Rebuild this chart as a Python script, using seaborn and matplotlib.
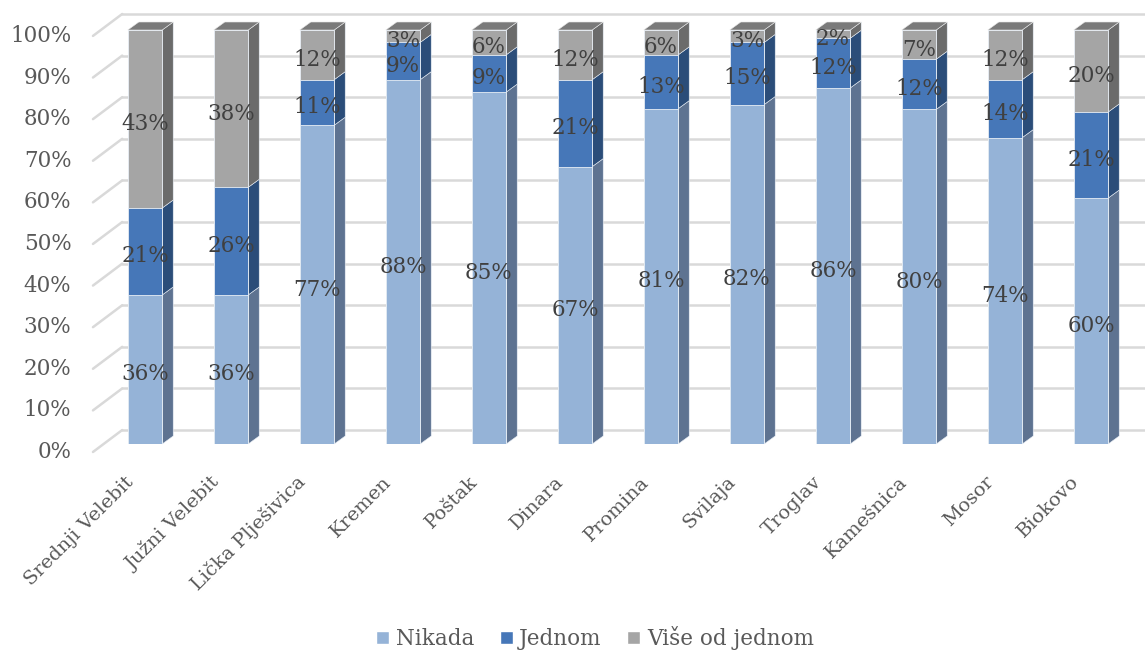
import matplotlib
matplotlib.use("Agg")
import matplotlib.pyplot as plt
from matplotlib.patches import Polygon, Patch
import seaborn as sns
import numpy as np
import pandas as pd

categories = ["Srednji Velebit", "Južni Velebit", "Lička Plješivica", "Kremen", "Poštak",
              "Dinara", "Promina", "Svilaja", "Troglav", "Kamešnica", "Mosor", "Biokovo"]
nikada = [36, 36, 77, 88, 85, 67, 81, 82, 86, 80, 74, 60]
jednom = [21, 26, 11, 9, 9, 21, 13, 15, 12, 12, 14, 21]
vise = [43, 38, 12, 3, 6, 12, 6, 3, 2, 7, 12, 20]
series_names = ["Nikada", "Jednom", "Više od jednom"]
y_ticks = [0, 10, 20, 30, 40, 50, 60, 70, 80, 90, 100]

front_colors = ["#95B3D7", "#4677B8", "#A5A5A5"]
side_colors = ["#5E7391", "#2B4D79", "#6B6B6B"]
top_color = "#7A7A7A"
text_color = "#404040"
tick_color = "#595959"
grid_color = "#D9D9D9"

sns.set_theme(style="white")
plt.rcParams["font.family"] = ["DejaVu Serif"]
FS = 15.5

fig = plt.figure(figsize=(11.45, 6.53), dpi=100)
W, H = 1145, 653
ax = fig.add_axes([102 / W, (H - 444) / H, 1032 / W, 414 / H])

n = len(categories)
raw = np.array([nikada, jednom, vise], dtype=float)
frac = raw / raw.sum(axis=0)
cum = np.cumsum(frac, axis=0)

bar_w = 0.4
ddx, ddy = 0.128, 0.0193          # bar depth
wdx, wdy = 0.34, 0.053            # front plane -> back wall offset
fx0, fy0 = -0.605, -0.0193        # front plane origin (left wall front edge)

# back wall gridlines and left wall slant lines
for t in y_ticks:
    v = t / 100
    yb = fy0 + v * 1.005 + wdy
    ax.plot([fx0 + wdx, 11.9], [yb, yb], color=grid_color, lw=1.8, clip_on=False, zorder=0)
    ax.plot([fx0, fx0 + wdx], [fy0 + v * 1.005, yb], color=grid_color, lw=1.8,
            clip_on=False, zorder=0)
    ax.text(fx0 - 0.25, fy0 + v * 1.005, f"{t}%", ha="right", va="center",
            fontsize=FS, color=tick_color)

# front faces via seaborn (stacked by overlapping cumulative heights)
df = pd.DataFrame({"cat": categories})
for k in [2, 1, 0]:
    df["h"] = cum[k]
    sns.barplot(data=df, x="cat", y="h", color=front_colors[k], width=bar_w,
                saturation=1, ax=ax, zorder=2, edgecolor="#E8EEF5", linewidth=0.6)

# side and top faces
for i in range(n):
    xr = i + bar_w / 2
    xl = i - bar_w / 2
    bottom = 0.0
    for k in range(3):
        top = cum[k, i]
        poly = Polygon([(xr, bottom), (xr + ddx, bottom + ddy), (xr + ddx, top + ddy), (xr, top)],
                       closed=True, facecolor=side_colors[k], edgecolor="#E8EEF5",
                       linewidth=0.4, zorder=1.5, clip_on=False)
        ax.add_patch(poly)
        bottom = top
    poly = Polygon([(xl, 1), (xr, 1), (xr + ddx, 1 + ddy), (xl + ddx, 1 + ddy)],
                   closed=True, facecolor=top_color, edgecolor="#E8E8E8",
                   linewidth=0.4, zorder=1.6, clip_on=False)
    ax.add_patch(poly)

# data labels
for i in range(n):
    bottom = 0.0
    for k in range(3):
        mid = bottom + frac[k, i] / 2
        ax.text(i, mid - 0.012, f"{int(raw[k, i])}%", ha="center", va="center",
                fontsize=FS, color=text_color, zorder=5)
        bottom = cum[k, i]

# category labels
for i, c in enumerate(categories):
    ax.text(i - 0.17, -0.085, c, rotation=45, ha="right", va="center",
            rotation_mode="anchor", fontsize=14, color=tick_color)

ax.set_xlim(-0.5, 11.5)
ax.set_ylim(0, 1)
ax.set_xticks([])
ax.set_yticks([])
ax.set_xlabel("")
ax.set_ylabel("")
for s in ax.spines.values():
    s.set_visible(False)
ax.patch.set_alpha(0)

# legend
handles = [Patch(facecolor=front_colors[k], label=series_names[k]) for k in range(3)]
fig.legend(handles=handles, loc="center", bbox_to_anchor=(595 / W, 1 - 638 / H), ncol=3,
           frameon=False, fontsize=FS, handlelength=0.6, handleheight=0.6,
           handletextpad=0.3, columnspacing=1.2, labelcolor=tick_color)

fig.savefig("out.png", dpi=100)
